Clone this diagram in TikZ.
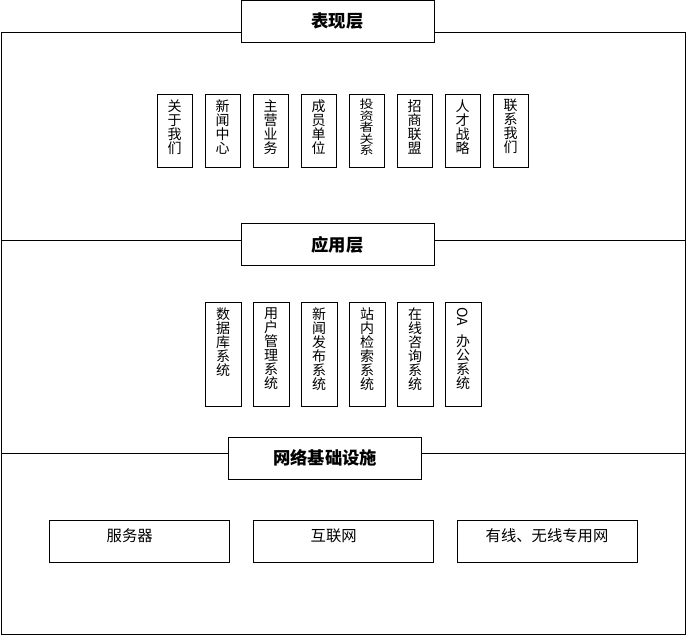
\documentclass[tikz,border=0pt]{standalone}
\usepackage{fontspec}
\setmainfont{Noto Sans CJK SC}
\usepackage{graphicx}
\usetikzlibrary{positioning}
\newcommand{\vstack}[2]{\parbox[c][#1][t]{1.4em}{\centering\lineskiplimit=-20pt
  \fontsize{10.5pt}{10.5pt}\selectfont #2}}

\begin{document}
\begin{tikzpicture}[x=0.75pt, y=-0.75pt, line width=0.75pt,
    layer/.style={rectangle, draw, fill=white, minimum width=144.75pt, minimum height=31.5pt,
                  inner sep=0pt, outer sep=0pt, font=\fontsize{13pt}{15pt}\selectfont\bfseries},
    cell/.style={rectangle, draw, minimum width=26.25pt, minimum height=54.75pt,
                 inner sep=0pt, outer sep=0pt},
    tall/.style={cell, minimum width=27pt, minimum height=78pt},
    base/.style={rectangle, draw, minimum width=135pt, minimum height=31.5pt,
                 inner sep=0pt, outer sep=0pt, text height=10.1pt, text depth=9.5pt,
                 font=\fontsize{11.5pt}{13pt}\selectfont}
]
    \useasboundingbox (0,0) rectangle (686,636);

    % outer frame and layer dividers
    \draw (1,32) rectangle (685,634);
    \draw (1,240) -- (685,240);
    \draw (1,453) -- (685,453);

    % presentation layer
    \node[layer] (show) at (337.5,21) {表现层};
    \node[cell] (about) at (174.5,130.5)    {\vstack{46.75pt}{关\\于\\我\\们}};
    \node[cell, right=9.75pt of about]  (news)    {\vstack{46.75pt}{新\\闻\\中\\心}};
    \node[cell, right=9.75pt of news]   (biz)     {\vstack{46.75pt}{主\\营\\业\\务}};
    \node[cell, right=9.75pt of biz]    (member)  {\vstack{46.75pt}{成\\员\\单\\位}};
    \node[cell, right=9.75pt of member] (invest)  {\scalebox{1}[0.82]{\vstack{57pt}{投\\资\\者\\关\\系}}};
    \node[cell, right=9.75pt of invest] (partner) {\vstack{46.75pt}{招\\商\\联\\盟}};
    \node[cell, right=9.75pt of partner](talent)  {\vstack{46.75pt}{人\\才\\战\\略}};
    \node[cell, right=9.75pt of talent] (contact) {\vstack{46.75pt}{联\\系\\我\\们}};

    % application layer
    \node[layer] (app) at (337.5,244.5) {应用层};
    \node[tall] (db) at (223,354)           {\vstack{70pt}{数\\据\\库\\系\\统}};
    \node[tall, right=9pt of db]     (user)   {\vstack{70pt}{用\\户\\管\\理\\系\\统}};
    \node[tall, right=9pt of user]   (pub)    {\vstack{70pt}{新\\闻\\发\\布\\系\\统}};
    \node[tall, right=9pt of pub]    (search) {\vstack{70pt}{站\\内\\检\\索\\系\\统}};
    \node[tall, right=9pt of search] (consult){\vstack{70pt}{在\\线\\咨\\询\\系\\统}};
    \node[tall, right=9pt of consult](oa)     {\vstack{70pt}{\rotatebox{-90}{OA\ }\\[19pt]办\\公\\系\\统}};

    % infrastructure
    \node[layer] (infra) at (325,458) {网络基础设施};
    \node[base] (server) at (139,541)       {服务器\hspace*{14pt}};
    \node[base, right=18pt of server] (inet) {互联网\hspace*{14pt}};
    \node[base, right=18pt of inet]   (lan)  {有线、无线专用网};
\end{tikzpicture}
\end{document}
